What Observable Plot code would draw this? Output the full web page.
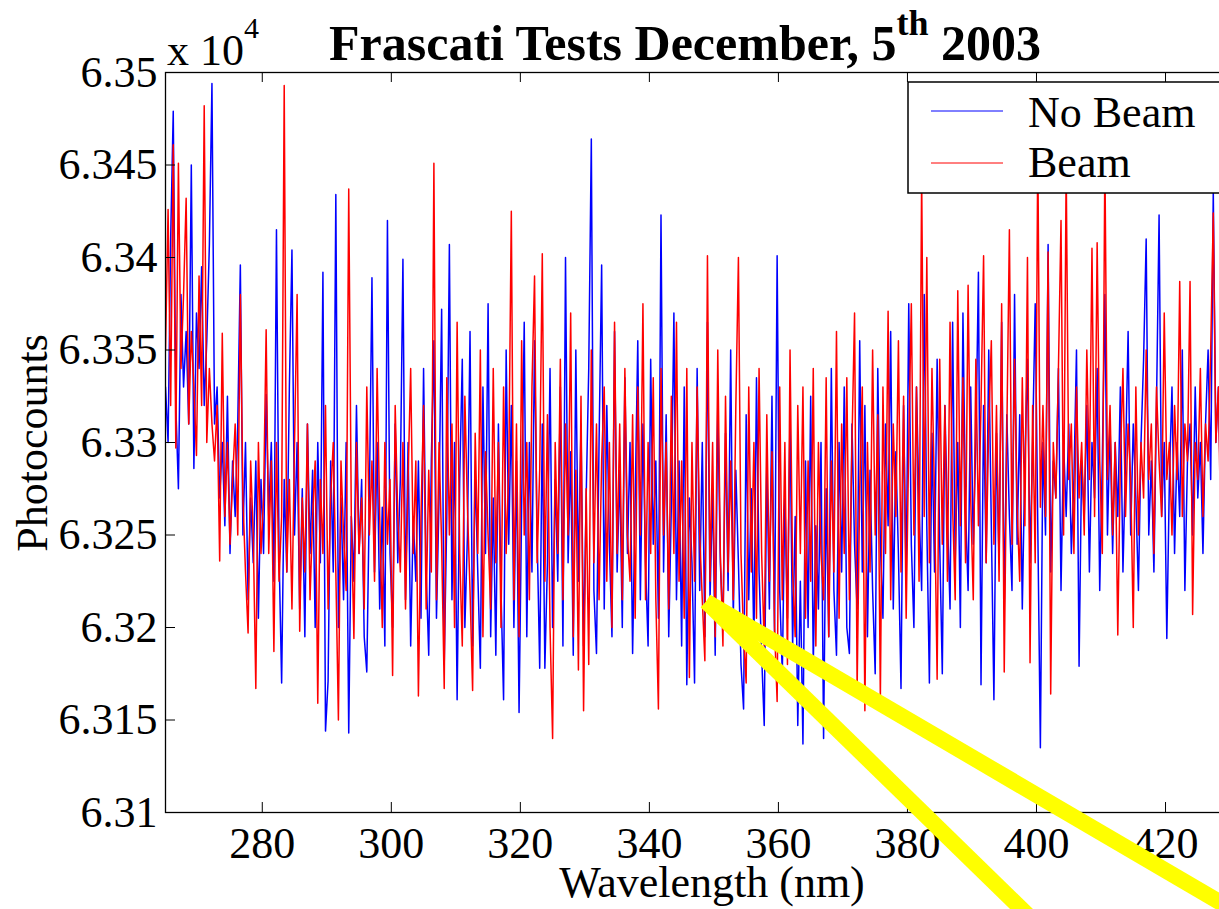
<!DOCTYPE html>
<html><head><meta charset="utf-8">
<script src="https://cdn.jsdelivr.net/npm/d3@7"></script>
<script src="https://cdn.jsdelivr.net/npm/@observablehq/plot@0.6"></script>
<style>
html,body{margin:0;padding:0;overflow:hidden;background:#fff}
#chart svg{max-width:none !important;width:1236px;height:909px}
#chart svg text{font-family:'Liberation Serif','Times New Roman',serif !important}
</style>
</head><body><div id="chart"></div>
<script>
// Photocounts, series "No Beam" (blue), sampled every 0.4 nm from 265 nm
const noBeamCounts = [
63330,63300,63410,63479,63320,63275,63380,63330,63360,63310,
63450,63286,63370,63340,63395,63320,63355,63407,63494,63310,
63330,63270,63300,63255,63325,63240,63290,63260,63310,63396,
63250,63300,63215,63270,63235,63290,63205,63280,63240,63326,
63260,63300,63225,63415,63240,63170,63280,63230,63330,63404,
63250,63300,63210,63275,63195,63310,63240,63285,63200,63300,
63235,63392,63144,63171,63290,63230,63434,63200,63270,63215,
63300,63143,63260,63225,63320,63240,63280,63195,63176,63270,
63389,63230,63300,63210,63265,63190,63420,63240,63200,63310,
63235,63280,63399,63215,63300,63190,63260,63225,63290,63205,
63340,63230,63185,63290,63355,63205,63270,63372,63180,63260,
63407,63215,63300,63161,63280,63345,63200,63250,63360,63190,
63285,63230,63178,63330,63240,63375,63195,63270,63185,63310,
63220,63161,63350,63245,63320,63200,63290,63154,63265,63365,
63195,63300,63230,63355,63250,63178,63310,63178,63235,63340,
63200,63280,63225,63330,63190,63400,63235,63295,63185,63350,
63225,63310,63190,63270,63340,63464,63220,63186,63300,63396,
63210,63320,63245,63195,63360,63230,63285,63200,63335,63240,
63300,63186,63270,63355,63215,63310,63235,63190,63345,63245,
63290,63205,63423,63230,63315,63195,63265,63370,63215,63290,
63190,63330,63169,63270,63235,63170,63340,63220,63300,63195,
63365,63215,63275,63185,63320,63235,63200,63305,63220,63350,
63205,63285,63235,63180,63156,63315,63215,63275,63190,63335,
63230,63185,63147,63290,63210,63325,63195,63401,63220,63175,
63270,63205,63315,63190,63260,63147,63225,63137,63290,63200,
63325,63180,63255,63210,63300,63140,63275,63195,63340,63220,
63185,63300,63230,63330,63200,63186,63310,63245,63210,63355,
63230,63320,63195,63285,63220,63175,63340,63245,63205,63310,
63255,63360,63210,63295,63240,63167,63320,63225,63375,63245,
63200,63330,63265,63220,63380,63255,63170,63305,63230,63345,
63245,63175,63320,63260,63210,63365,63235,63300,63200,63370,
63265,63220,63330,63245,63300,63392,63169,63320,63235,63350,
63255,63161,63305,63235,63365,63210,63315,63260,63220,63380,
63245,63315,63210,63290,63345,63235,63300,63375,63255,63135,
63300,63250,63407,63230,63290,63270,63340,63220,63300,63260,
63310,63240,63280,63350,63179,63290,63260,63320,63230,63300,
63270,63340,63220,63290,63380,63250,63310,63240,63300,63260,
63330,63230,63290,63360,63250,63310,63270,63220,63300,63345,
63410,63250,63290,63230,63320,63423,63260,63300,63194,63280,
63330,63240,63300,63260,63350,63220,63290,63310,63250,63330,
63270,63300,63240,63310,63350,63280,63436,63300,63330,63260
];
// Photocounts, series "Beam" (red)
const beamCounts = [
63350,63426,63320,63461,63297,63451,63340,63380,63432,63310,
63360,63330,63293,63390,63320,63482,63300,63340,63310,63290,
63320,63236,63359,63260,63300,63245,63280,63310,63250,63380,
63270,63230,63197,63290,63250,63167,63300,63240,63270,63361,
63240,63290,63187,63300,63225,63260,63493,63230,63280,63210,
63300,63380,63198,63270,63230,63310,63215,63260,63290,63159,
63280,63240,63320,63210,63270,63300,63230,63150,63290,63250,
63220,63437,63260,63194,63300,63240,63270,63210,63330,63250,
63290,63225,63340,63260,63200,63300,63245,63280,63174,63320,
63260,63230,63300,63210,63280,63340,63240,63290,63163,63260,
63320,63210,63285,63230,63451,63215,63300,63245,63167,63335,
63250,63310,63200,63365,63240,63190,63325,63265,63220,63166,
63305,63240,63350,63195,63295,63250,63210,63340,63235,63300,
63200,63330,63240,63285,63425,63215,63310,63195,63355,63250,
63300,63215,63330,63390,63235,63285,63402,63225,63315,63200,
63140,63300,63240,63345,63215,63310,63250,63370,63195,63285,
63177,63325,63155,63275,63180,63350,63235,63310,63215,63290,
63330,63225,63300,63200,63365,63240,63310,63215,63340,63250,
63225,63315,63205,63330,63250,63375,63215,63300,63240,63335,
63215,63156,63340,63250,63300,63210,63325,63240,63365,63225,
63290,63205,63340,63173,63300,63225,63330,63250,63215,63182,
63401,63225,63300,63195,63350,63240,63190,63325,63230,63290,
63215,63320,63400,63240,63195,63170,63330,63230,63300,63205,
63340,63240,63190,63315,63225,63295,63200,63160,63330,63215,
63300,63180,63350,63230,63195,63320,63240,63330,63205,63290,
63225,63340,63190,63300,63240,63215,63335,63195,63290,63230,
63360,63205,63310,63240,63335,63215,63300,63370,63167,63275,
63330,63155,63300,63230,63350,63250,63315,63161,63330,63240,
63371,63215,63310,63260,63355,63230,63325,63205,63300,63375,
63250,63330,63225,63445,63260,63400,63235,63340,63270,63172,
63345,63245,63320,63225,63365,63265,63215,63382,63255,63335,
63235,63385,63270,63215,63345,63255,63320,63401,63235,63310,
63355,63245,63320,63225,63375,63176,63305,63415,63245,63345,
63265,63225,63335,63255,63400,63181,63320,63235,63460,63265,
63320,63260,63403,63164,63300,63270,63340,63420,63250,63450,
63280,63310,63240,63330,63270,63300,63250,63350,63280,63405,
63260,63408,63290,63240,63455,63280,63320,63250,63300,63196,
63290,63340,63260,63310,63280,63200,63330,63250,63300,63270,
63350,63280,63310,63240,63330,63290,63260,63370,63280,63300,
63250,63320,63280,63387,63260,63310,63290,63387,63207,63300,
63280,63340,63260,63310,63290,63350,63424,63300,63330,63240
];
const wavelengthStart = 265;   // nm, first sample
const wavelengthStep = 0.4;    // nm between samples
const seriesNames = ["No Beam", "Beam"];
const seriesColors = ["#0000ff", "#ff0000"];
const xTicks = [280, 300, 320, 340, 360, 380, 400, 420];
const yTicks = [63100, 63150, 63200, 63250, 63300, 63350, 63400, 63450, 63500];
const yTickLabels = ["6.31", "6.315", "6.32", "6.325", "6.33", "6.335", "6.34", "6.345", "6.35"];
// Yellow annotation strokes (common origin, two ends), in data units
const pointerStart = [348.8, 63214];
const pointerEnds = [[431.6, 63045], [399.1, 63043]];

const rows = [];
[noBeamCounts, beamCounts].forEach((arr, s) => arr.forEach((c, i) => rows.push({
  series: seriesNames[s], wavelength: wavelengthStart + i * wavelengthStep, counts: c
})));
const pointerRows = [];
pointerEnds.forEach((e, k) => {
  pointerRows.push({k, wavelength: pointerStart[0], counts: pointerStart[1]});
  pointerRows.push({k, wavelength: e[0], counts: e[1]});
});
const labelOf = new Map(yTicks.map((t, i) => [t, yTickLabels[i]]));
const font = "'Liberation Serif', 'Times New Roman', serif";

const plot = Plot.plot({
  width: 1236, height: 909,
  marginLeft: 165, marginRight: 0, marginTop: 72, marginBottom: 97,
  style: {fontFamily: font, fontSize: "44px", background: "white", color: "black", overflow: "visible", maxWidth: "none"},
  x: {domain: [265, 431], label: null},
  y: {domain: [63100, 63500], label: null},
  marks: [
    Plot.line(rows.filter(d => d.series === seriesNames[0]), {x: "wavelength", y: "counts", stroke: seriesColors[0], strokeWidth: 1.5, clip: true}),
    Plot.line(rows.filter(d => d.series === seriesNames[1]), {x: "wavelength", y: "counts", stroke: seriesColors[1], strokeWidth: 1.5, clip: true}),
    Plot.frame({stroke: "black", strokeWidth: 1.3}),
    Plot.axisY({ticks: yTicks, tickSize: -10, tickPadding: 18, tickFormat: d => labelOf.get(d), label: null, fontFamily: font}),
    Plot.axisX({anchor: "bottom", ticks: xTicks, tickSize: -10, tickPadding: 24, tickFormat: d => String(d), label: null, fontFamily: font}),
    Plot.axisX({anchor: "top", ticks: xTicks, tickSize: -9, tickFormat: () => "", label: null}),
    Plot.line(pointerRows, {x: "wavelength", y: "counts", z: "k", stroke: "#ffff00", strokeWidth: 16, strokeLinecap: "butt", clip: false})
  ]
});

const svg = d3.select(plot);
function addText(parent, x, y, size) {
  return parent.append("text").attr("x", x).attr("y", y).attr("text-anchor", "start")
    .attr("font-family", font).attr("font-size", size).attr("fill", "black");
}
// Title with superscript
const title = addText(svg, 685, 60, 50).attr("text-anchor", "middle").attr("font-weight", "bold");
title.append("tspan").text("Frascati Tests December, 5");
title.append("tspan").attr("font-size", 36).attr("dy", -25).text("th");
title.append("tspan").attr("dy", 25).text(" 2003");
// Exponent label
const expo = addText(svg, 167, 65, 44);
expo.append("tspan").text("x 10");
expo.append("tspan").attr("font-size", 30).attr("dy", -27).text("4");
// Axis labels
svg.append("text").attr("transform", "translate(47,443) rotate(-90)").attr("text-anchor", "middle")
  .attr("font-family", font).attr("font-size", 44).attr("fill", "black").text("Photocounts");
addText(svg, 712, 897, 44).attr("text-anchor", "middle").text("Wavelength (nm)");
// Legend box
const lg = svg.append("g");
lg.append("rect").attr("x", 908).attr("y", 82).attr("width", 400).attr("height", 111)
  .attr("fill", "white").attr("stroke", "black").attr("stroke-width", 1.5);
seriesNames.forEach((name, i) => {
  const yy = [111, 163][i];
  lg.append("line").attr("x1", 931).attr("x2", 1003).attr("y1", yy).attr("y2", yy)
    .attr("stroke", seriesColors[i]).attr("stroke-width", 1);
  addText(lg, 1028, [127, 177][i], 44).text(name);
});

document.getElementById("chart").appendChild(plot);
</script>
</body></html>
